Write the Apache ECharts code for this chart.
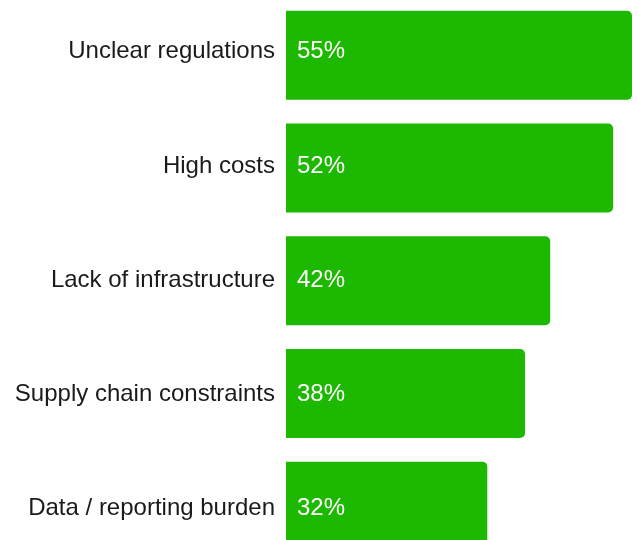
<!DOCTYPE html>
<html>
<head>
<meta charset="utf-8">
<script src="https://cdn.jsdelivr.net/npm/echarts@6/dist/echarts.min.js"></script>
<style>
  html, body { margin: 0; padding: 0; background: #ffffff; }
  #chart { width: 638px; height: 540px; }
</style>
</head>
<body>
<div id="chart"></div>
<script>
// Barriers, share of respondents (%)
const categories = [
  'Unclear regulations',
  'High costs',
  'Lack of infrastructure',
  'Supply chain constraints',
  'Data / reporting burden'
];
const shares = [55, 52, 42, 38, 32];

const FONT = 'Liberation Sans, Arial, sans-serif';
const chart = echarts.init(document.getElementById('chart'), null, { renderer: 'canvas' });

chart.setOption({
  animation: false,
  backgroundColor: '#ffffff',
  grid: [
    // bars; the last row runs past the bottom edge of the canvas
    { left: 286, right: 6, top: -1, bottom: -22.5, containLabel: false, outerBoundsMode: 'none' },
    // text rows, spaced slightly wider than the bars
    { left: 286, right: 6, top: -5.5, bottom: -25.75, containLabel: false, outerBoundsMode: 'none' }
  ],
  xAxis: [
    { gridIndex: 0, type: 'value', min: 0, max: 55, show: false },
    { gridIndex: 1, type: 'value', min: 0, max: 55, show: false }
  ],
  yAxis: [
    {
      gridIndex: 0,
      type: 'category',
      data: categories,
      inverse: true,
      show: false
    },
    {
      gridIndex: 1,
      type: 'category',
      data: categories,
      inverse: true,
      axisLine: { show: false },
      axisTick: { show: false },
      splitLine: { show: false },
      axisLabel: {
        margin: 11,
        color: '#1a1a1a',
        fontFamily: FONT,
        fontSize: 24
      }
    }
  ],
  series: [
    {
      type: 'bar',
      xAxisIndex: 0,
      yAxisIndex: 0,
      data: shares,
      barCategoryGap: '21%',
      itemStyle: { color: '#1db800', borderRadius: [0, 5, 5, 0] },
      silent: true
    },
    {
      // value labels
      type: 'bar',
      xAxisIndex: 1,
      yAxisIndex: 1,
      data: shares,
      barCategoryGap: '21%',
      itemStyle: { color: 'rgba(0,0,0,0)' },
      label: {
        show: true,
        position: 'insideLeft',
        distance: 11,
        color: '#ffffff',
        fontFamily: FONT,
        fontSize: 24,
        formatter: p => p.value + '%'
      },
      silent: true
    }
  ]
});
</script>
</body>
</html>
